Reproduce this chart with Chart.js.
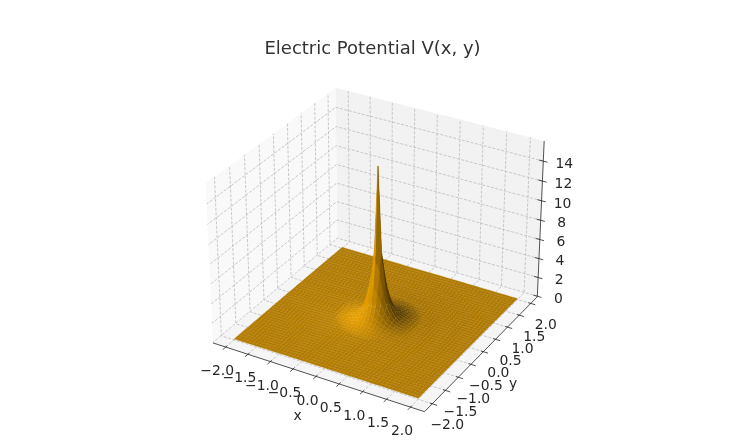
<!DOCTYPE html>
<html>
<head>
<meta charset="utf-8">
<style>
  html, body { margin: 0; padding: 0; background: #fff; }
  canvas { display: block; }
</style>
<script src="https://cdn.jsdelivr.net/npm/chart.js@4/dist/chart.umd.js"></script>
</head>
<body>
<canvas id="surface" width="736" height="448"></canvas>
<script>
// tick values and labels
let xTicks = [-2, -1.5, -1, -0.5, 0, 0.5, 1, 1.5, 2];
let yTicks = [-2, -1.5, -1, -0.5, 0, 0.5, 1, 1.5, 2];
let zTicks = [0, 2, 4, 6, 8, 10, 12, 14];
let xTickLabels = ["\u22122.0", "\u22121.5", "\u22121.0", "\u22120.5", "0.0", "0.5", "1.0", "1.5", "2.0"];
let yTickLabels = ["\u22122.0", "\u22121.5", "\u22121.0", "\u22120.5", "0.0", "0.5", "1.0", "1.5", "2.0"];
let zTickLabels = ["0", "2", "4", "6", "8", "10", "12", "14"];

// axis limits of the box
let xLimits = [-2.29, 2.29];
let yLimits = [-2.29, 2.29];
let zLimits = [-0.05, 16];

// surface grid
let gridValues = [];
for (let i = 0; i <= 50; i++) gridValues.push(-2 + i * 0.08);

// V near the charge, keyed by i*i + j*j of the grid offset
let nearKeys = [
    0, 1, 2, 4, 5, 8, 9, 10, 13, 16, 17, 18, 20, 25, 26, 29, 32, 34, 36, 37, 40, 41,
    45, 49, 50, 52, 53, 58, 61, 64, 65, 68, 72, 73, 74, 80, 81, 82, 85, 89, 90, 97, 98, 100
];
let nearPotential = [
    15.6, 7.0, 5.2, 3.7, 3.25, 2.3, 2.05, 1.85, 1.42, 1.12, 1.04, 0.98, 0.86, 0.65, 0.62, 0.55, 0.49, 0.46, 0.43, 0.415, 0.385, 0.375,
    0.34, 0.31, 0.305, 0.295, 0.29, 0.265, 0.25, 0.24, 0.235, 0.225, 0.212, 0.208, 0.205, 0.19, 0.187, 0.185, 0.178, 0.17, 0.168, 0.158, 0.157, 0.155
];
// V further out, one value per ring of width 0.04, first ring at r = 0.84
let farPotential = [
    0.148, 0.142, 0.136, 0.131, 0.127, 0.123, 0.119, 0.115, 0.112,
    0.109, 0.106, 0.103, 0.1, 0.098, 0.096, 0.094, 0.092, 0.09, 0.088,
    0.086, 0.084, 0.082, 0.08, 0.078, 0.077, 0.076, 0.075, 0.074, 0.073,
    0.072, 0.071, 0.07, 0.069, 0.068, 0.067, 0.066, 0.065, 0.064, 0.063,
    0.062, 0.061, 0.06, 0.059, 0.058, 0.057, 0.056, 0.055, 0.054, 0.053,
    0.052, 0.051
];

function potential(i, j) {
    let di = i - 25, dj = j - 25;
    let key = di * di + dj * dj;
    let near = nearKeys.indexOf(key);
    if (near >= 0) return nearPotential[near];
    let ring = Math.round(Math.sqrt(key) * 0.08 / 0.04) - 21;
    return farPotential[Math.max(ring, 0)];
}

// mplot3d style camera, elev 30 azim -60
let boxX = 1.1429, boxY = 1.1429, boxZ = 0.8571;
let u = [0.75, 0.433, 0];
let v = [-0.2165, 0.375, 0.75];
let w = [0.433, -0.75, 0.5];

function toBox(p) {
    return [
        ((p[0] - xLimits[0]) / (xLimits[1] - xLimits[0]) - 0.5) * boxX,
        ((p[1] - yLimits[0]) / (yLimits[1] - yLimits[0]) - 0.5) * boxY,
        ((p[2] - zLimits[0]) / (zLimits[1] - zLimits[0]) - 0.5) * boxZ
    ];
}
function dot(a, b) {
    return a[0] * b[0] + a[1] * b[1] + a[2] * b[2];
}
function depth(p) {
    return dot(toBox(p), w);
}
function project(p) {
    let b = toBox(p);
    let d = 10 - dot(b, w);
    return { x: 378 + 2450 * dot(b, u) / d, y: 242.3 - 2450 * dot(b, v) / d };
}

let lightDir = [-0.667, -0.667, 0.3333];

function cellColor(a, b, c, d) {
    let p = [c[0] - a[0], c[1] - a[1], c[2] - a[2]];
    let q = [d[0] - b[0], d[1] - b[1], d[2] - b[2]];
    let n = [p[1] * q[2] - p[2] * q[1], p[2] * q[0] - p[0] * q[2], p[0] * q[1] - p[1] * q[0]];
    let len = Math.sqrt(dot(n, n));
    let s = dot(n, lightDir) / len;
    let k = 0.3 + 0.7 * (s + 1) / 2;
    return "rgb(" + Math.round(230 * k) + "," + Math.round(159 * k) + ",0)";
}

let datasets = [];

function addLine(points, color, width, dash, order) {
    datasets.push({
        data: points.map(project),
        showLine: true,
        fill: false,
        borderColor: color,
        borderWidth: width,
        borderDash: dash,
        pointRadius: 0,
        order: order
    });
}
function addPane(points, color) {
    datasets.push({
        data: points.concat([points[0]]).map(project),
        showLine: true,
        fill: "shape",
        backgroundColor: color,
        borderWidth: 0,
        pointRadius: 0,
        order: 100000
    });
}

let x0 = xLimits[0], x1 = xLimits[1];
let y0 = yLimits[0], y1 = yLimits[1];
let z0 = zLimits[0], z1 = zLimits[1];

// panes
addPane([[x0, y0, z0], [x0, y1, z0], [x0, y1, z1], [x0, y0, z1]], "rgb(249,249,249)");
addPane([[x0, y1, z0], [x1, y1, z0], [x1, y1, z1], [x0, y1, z1]], "rgb(242,242,242)");
addPane([[x0, y0, z0], [x1, y0, z0], [x1, y1, z0], [x0, y1, z0]], "rgb(245,245,245)");

// grid lines
let gridColor = "#bcbcbc";
let gridDash = [3, 1.5];
xTicks.forEach(function (t) {
    addLine([[t, y0, z0], [t, y1, z0], [t, y1, z1]], gridColor, 0.8, gridDash, 50000);
});
yTicks.forEach(function (t) {
    addLine([[x1, t, z0], [x0, t, z0], [x0, t, z1]], gridColor, 0.8, gridDash, 50000);
});
zTicks.forEach(function (t) {
    addLine([[x1, y1, t], [x0, y1, t], [x0, y0, t]], gridColor, 0.8, gridDash, 50000);
});

// surface cells, far ones get the higher order so they are painted first
let cells = [];
for (let i = 0; i < gridValues.length - 1; i++) {
    for (let j = 0; j < gridValues.length - 1; j++) {
        let xa = gridValues[i], xb = gridValues[i + 1];
        let ya = gridValues[j], yb = gridValues[j + 1];
        let a = [xa, ya, potential(i, j)];
        let b = [xb, ya, potential(i + 1, j)];
        let c = [xb, yb, potential(i + 1, j + 1)];
        let d = [xa, yb, potential(i, j + 1)];
        let mean = (depth(a) + depth(b) + depth(c) + depth(d)) / 4;
        cells.push({ pts: [a, b, c, d, a], color: cellColor(a, b, c, d), mean: mean });
    }
}
cells.sort(function (m, n) { return n.mean - m.mean; });
cells.forEach(function (cell, idx) {
    datasets.push({
        data: cell.pts.map(project),
        showLine: true,
        fill: "shape",
        backgroundColor: cell.color,
        borderColor: cell.color,
        borderWidth: 0.25,
        pointRadius: 0,
        order: 10 + idx
    });
});

// axis lines and tick marks
let axisColor = "#262626";
addLine([[x0, y0, z0], [x1, y0, z0]], axisColor, 0.8, [], 1);
addLine([[x1, y0, z0], [x1, y1, z0]], axisColor, 0.8, [], 1);
addLine([[x1, y1, z0], [x1, y1, z1]], axisColor, 0.8, [], 1);
let tickX = 0.1, tickY = 0.1, tickZ = 0.09;
xTicks.forEach(function (t) {
    addLine([[t, y0 + tickY * 0.5, z0], [t, y0 - tickY, z0]], axisColor, 0.8, [], 1);
});
yTicks.forEach(function (t) {
    addLine([[x1 - tickX * 0.5, t, z0], [x1 + tickX, t, z0]], axisColor, 0.8, [], 1);
});
zTicks.forEach(function (t) {
    addLine([[x1 - tickZ, y1, t], [x1 + tickZ, y1, t]], axisColor, 0.8, [], 1);
});

let tickLabelPlugin = {
    id: "tickLabelPlugin",
    afterDraw: function (chart) {
        let ctx = chart.ctx;
        let sx = chart.scales.x, sy = chart.scales.y;
        function put(text, pos, dx, dy) {
            ctx.fillText(text, sx.getPixelForValue(pos.x) + dx, sy.getPixelForValue(pos.y) + dy);
        }
        ctx.save();
        ctx.fillStyle = "#262626";
        ctx.font = "13.9px 'DejaVu Sans'";
        ctx.textAlign = "center";
        ctx.textBaseline = "middle";
        xTicks.forEach(function (t, i) {
            put(xTickLabels[i], project([t, y0, z0]), -8.5, 24.5);
        });
        yTicks.forEach(function (t, i) {
            put(yTickLabels[i], project([x1, t, z0]), 15, 22);
        });
        zTicks.forEach(function (t, i) {
            put(zTickLabels[i], project([x1, y1, t]), 21, 3.2);
        });
        ctx.fillText("x", sx.getPixelForValue(297.5), sy.getPixelForValue(416));
        ctx.fillText("y", sx.getPixelForValue(513), sy.getPixelForValue(384));
        ctx.restore();
    }
};

let surfaceChart = new Chart(document.getElementById("surface").getContext("2d"), {
    type: "scatter",
    data: { datasets: datasets },
    options: {
        responsive: false,
        animation: false,
        layout: { padding: { left: 9 } },
        scales: {
            x: { display: false, min: 9, max: 736 },
            y: { display: false, min: 60, max: 448, reverse: true }
        },
        plugins: {
            legend: { display: false },
            tooltip: { enabled: false },
            title: {
                display: true,
                fullSize: false,
                text: "Electric Potential V(x, y)",
                color: "#333333",
                font: { family: "'DejaVu Sans'", size: 18, weight: "normal", lineHeight: 1.2 },
                padding: { top: 38.4, bottom: 0 }
            }
        }
    },
    plugins: [tickLabelPlugin]
});
</script>
</body>
</html>
